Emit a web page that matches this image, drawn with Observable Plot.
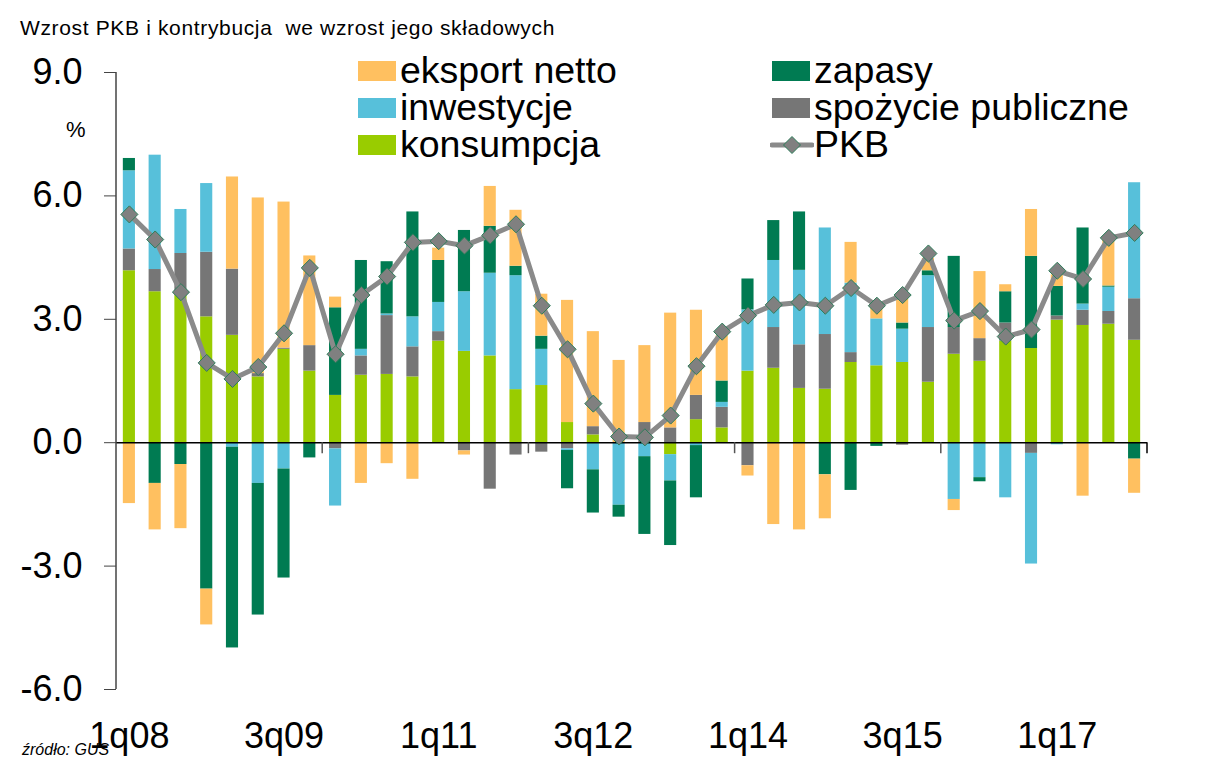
<!DOCTYPE html>
<html><head><meta charset="utf-8">
<script src="https://cdn.jsdelivr.net/npm/d3@7"></script>
<script src="https://cdn.jsdelivr.net/npm/@observablehq/plot@0.6"></script>
<style>
body{margin:0;background:#fff;font-family:"Liberation Sans",Arial,sans-serif;color:#000;}
#wrap{position:relative;width:1207px;height:780px;overflow:hidden;background:#fff;}
#title{height:45px;position:relative;}
#title span{position:absolute;left:20px;top:17px;font-size:21px;line-height:21px;letter-spacing:0.65px;white-space:nowrap;}
.abs{position:absolute;white-space:nowrap;}
.lg{font-size:37.5px;line-height:34px;}
.sw{position:absolute;width:38px;height:20px;}
#chart svg{display:block;}
</style></head><body>
<div id="wrap">
  <div id="title"><span>Wzrost PKB i kontrybucja&nbsp; we wzrost jego składowych</span></div>
  <div id="chart"></div>
  <div class="abs" style="left:66px;top:119px;font-size:22px;line-height:22px;">%</div>
  <div class="abs" style="left:22px;top:742px;font-size:16px;line-height:16px;font-style:italic;">źródło: GUS</div>
  <div id="legend"></div>
</div>
<script>
const quarters = ["1q08","2q08","3q08","4q08","1q09","2q09","3q09","4q09","1q10","2q10","3q10","4q10",
  "1q11","2q11","3q11","4q11","1q12","2q12","3q12","4q12","1q13","2q13","3q13","4q13",
  "1q14","2q14","3q14","4q14","1q15","2q15","3q15","4q15","1q16","2q16","3q16","4q16",
  "1q17","2q17","3q17","4q17"];
const konsumpcja = [4.18,3.67,3.59,3.06,2.61,1.60,2.27,1.74,1.15,1.64,1.66,1.60,2.47,2.22,2.11,1.29,1.39,0.49,0.19,0.00,
  0.00,-0.29,0.56,0.36,1.74,1.81,1.32,1.30,1.95,1.87,1.95,1.47,2.15,1.98,2.47,2.29,2.98,2.85,2.88,2.49];
const spozycie = [0.53,0.54,1.01,1.57,1.61,0.08,0.03,0.62,-0.15,0.47,1.43,0.73,0.23,-0.20,-1.13,-0.30,-0.23,-0.15,0.20,0.00,
  0.49,0.36,0.59,0.50,-0.56,0.99,1.06,1.33,0.24,0.00,-0.06,1.33,0.65,0.55,0.44,-0.26,0.10,0.37,0.31,1.01];
const inwestycje = [1.90,2.78,1.07,1.67,-0.11,-0.99,-0.64,0.00,-1.39,0.16,0.04,0.73,0.71,1.45,2.01,2.77,0.88,-0.04,-0.66,-1.52,
  -0.34,-0.64,-0.07,0.12,1.49,1.63,1.81,2.59,1.69,1.14,0.81,1.26,-1.38,-0.85,-1.34,-2.69,-0.05,0.15,0.59,2.82];
const zapasy = [0.30,-0.99,-0.53,-3.56,-4.88,-3.20,-2.65,-0.37,2.13,2.16,1.27,2.55,1.02,1.49,1.14,0.23,0.32,-0.93,-1.05,-0.29,
  -1.89,-1.57,-1.27,0.52,0.75,0.97,1.42,-0.78,-1.16,-0.09,0.15,0.12,1.73,-0.10,0.76,2.24,0.72,1.85,0.03,-0.40];
const eksport = [-1.48,-1.13,-1.56,-0.87,2.24,4.27,3.55,2.18,0.26,-0.99,-0.51,-0.89,0.30,-0.10,0.97,1.36,1.02,2.97,2.31,2.00,
  1.87,2.79,2.07,1.10,-0.25,-1.99,-2.12,-1.07,0.99,0.30,0.64,0.30,-0.27,1.63,0.17,1.14,0.28,-1.30,1.13,-0.83];
const pkb = [5.55,4.94,3.66,1.94,1.55,1.84,2.66,4.25,2.15,3.59,4.04,4.87,4.90,4.79,5.04,5.31,3.33,2.27,0.95,0.15,
  0.13,0.66,1.86,2.70,3.09,3.35,3.41,3.33,3.76,3.33,3.59,4.60,2.97,3.20,2.58,2.75,4.18,3.98,4.98,5.10];

const seriesNames = ["konsumpcja","spożycie publiczne","inwestycje","zapasy","eksport netto"];
const seriesValues = [konsumpcja, spozycie, inwestycje, zapasy, eksport];
const seriesColors = ["#99CC00","#767676","#57C0DA","#007B52","#FFC060"];
const yTicks = [-6,-3,0,3,6,9];
const xTickLabels = ["1q08","3q09","1q11","3q12","1q14","3q15","1q17"];
const boundaryTicks = ["1q10","1q12","1q14","1q16"];
const legendLeft = [["eksport netto","#FFC060"],["inwestycje","#57C0DA"],["konsumpcja","#99CC00"]];
const legendRight = [["zapasy","#007B52"],["spożycie publiczne","#767676"],["PKB",null]];

const rows = [];
seriesValues.forEach((vals, s) => vals.forEach((v, i) => rows.push({q: quarters[i], series: seriesNames[s], v})));
const pkbRows = quarters.map((q, i) => ({q, v: pkb[i]}));

const plot = Plot.plot({
  width: 1207, height: 735,
  marginLeft: 116, marginRight: 60, marginTop: 27, marginBottom: 91,
  style: {fontFamily: "'Liberation Sans', Arial, sans-serif", fontSize: "36px", color: "#000", background: "#fff", overflow: "visible"},
  x: {type: "band", domain: quarters, paddingInner: 0.53, paddingOuter: 0.265, label: null},
  y: {domain: [-6, 9], label: null},
  color: {domain: seriesNames, range: seriesColors},
  marks: [
    Plot.barY(rows, Plot.stackY({x: "q", y: "v", fill: "series", order: seriesNames})),
    Plot.ruleY([0], {stroke: "#000", strokeWidth: 1.5}),
    Plot.line(pkbRows, {x: "q", y: "v", stroke: "#8a8a8a", strokeWidth: 5}),
    Plot.dot(pkbRows, {x: "q", y: "v", symbol: "diamond2", r: 7.7, fill: "#808080", stroke: "#2E7D5A", strokeWidth: 1}),
    Plot.axisY({ticks: yTicks, tickSize: 12, tickPadding: 22, tickFormat: d => d.toFixed(1), stroke: "#444", label: null}),
    Plot.axisX({ticks: xTickLabels, tickSize: 0, tickPadding: 33, label: null})
  ]
});
document.getElementById("chart").appendChild(plot);

// axis line and category boundary ticks, placed with the plot's own scales
const sx = plot.scale("x"), sy = plot.scale("y");
const svg = d3.select(plot);
const x0 = sx.range[0], x1 = sx.range[1];
svg.append("line").attr("x1", x0).attr("x2", x0).attr("y1", sy.apply(yTicks[yTicks.length-1])).attr("y2", sy.apply(yTicks[0]))
  .attr("stroke", "#444").attr("stroke-width", 1.5);
const y0 = sy.apply(0);
const gap = (sx.step - sx.bandwidth) / 2;
boundaryTicks.map(q => sx.apply(q) - gap).concat([x1]).forEach(bx => {
  svg.append("line").attr("x1", bx).attr("x2", bx).attr("y1", y0).attr("y2", y0 + 11)
    .attr("stroke", bx === x1 ? "#000" : "#555").attr("stroke-width", 1.5);
});

// legend
const lg = document.getElementById("legend");
const rowTops = [61, 98, 135];
function addItem(name, color, left, r) {
  const top = rowTops[r];
  if (color) {
    const s = document.createElement("div");
    s.className = "sw"; s.style.left = left + "px"; s.style.top = top + "px"; s.style.background = color;
    lg.appendChild(s);
  } else {
    const ns = "http://www.w3.org/2000/svg";
    const sv = document.createElementNS(ns, "svg");
    sv.setAttribute("width", 44); sv.setAttribute("height", 24);
    sv.style.position = "absolute"; sv.style.left = (left - 2) + "px"; sv.style.top = (top - 2) + "px";
    sv.innerHTML = '<line x1="2" x2="42" y1="12" y2="12" stroke="#8a8a8a" stroke-width="5" stroke-linecap="round"/>' +
      '<path d="M22,3.5L30.5,12L22,20.5L13.5,12Z" fill="#808080" stroke="#2E7D5A" stroke-width="1"/>';
    lg.appendChild(sv);
  }
  const t = document.createElement("div");
  t.className = "abs lg"; t.textContent = name;
  t.style.left = (left + 42) + "px"; t.style.top = (top - 8) + "px";
  lg.appendChild(t);
}
legendLeft.forEach((d, r) => addItem(d[0], d[1], 358, r));
legendRight.forEach((d, r) => addItem(d[0], d[1], 772, r));
</script>
</body></html>
